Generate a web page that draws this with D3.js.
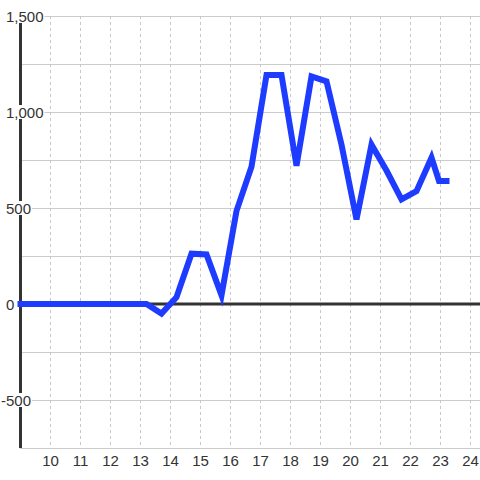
<!DOCTYPE html>
<html>
<head>
<meta charset="utf-8">
<script src="https://cdn.jsdelivr.net/npm/d3@7"></script>
<style>
  html, body { margin: 0; padding: 0; background: #fff; }
  svg { display: block; }
</style>
</head>
<body>
<svg id="chart" width="480" height="480"></svg>
<script>
// ---- data ----
const hours = [9.0, 9.7, 10.2, 10.7, 11.2, 11.7, 12.2, 12.7, 13.2, 13.7, 14.2, 14.7, 15.2, 15.7,
               16.2, 16.7, 17.2, 17.7, 18.2, 18.7, 19.2, 19.7, 20.2, 20.7, 21.2, 21.7, 22.2,
               22.7, 22.95, 23.2];
const values = [0, 0, 0, 0, 0, 0, 0, 0, 0, -50, 35, 262, 258, 45,
                485, 715, 1193, 1193, 720, 1185, 1160, 830, 440, 830, 695, 545, 588,
                762, 641, 641];
const xTicks = [10, 11, 12, 13, 14, 15, 16, 17, 18, 19, 20, 21, 22, 23, 24];
const yLabelTicks = [1500, 1000, 500, 0, -500];
const yGridTicks = [1500, 1250, 1000, 750, 500, 250, 0, -250, -500, -750];

const W = 480, H = 480;
const svg = d3.select("#chart");
const FONT = "Liberation Sans, Arial, sans-serif";

const x = d3.scaleLinear().domain([9, 24]).range([20.5, 470.5]);
const y = d3.scaleLinear().domain([-750, 1500]).range([448, 16]);

const fmt = v => d3.format(",")(v).replace("\u2212", "-");

// horizontal grid
svg.append("g").selectAll("line").data(yGridTicks).join("line")
  .attr("x1", 20).attr("x2", W)
  .attr("y1", d => Math.round(y(d)) + 0.5).attr("y2", d => Math.round(y(d)) + 0.5)
  .attr("stroke", "#cccccc").attr("stroke-width", 1);

// vertical dashed grid
svg.append("g").selectAll("line").data(xTicks).join("line")
  .attr("x1", d => x(d)).attr("x2", d => x(d))
  .attr("y1", y(1500)).attr("y2", y(-750))
  .attr("stroke", "#c8c8c8").attr("stroke-width", 1)
  .attr("stroke-dasharray", "3,3");

// left axis line
svg.append("line")
  .attr("x1", x(9)).attr("x2", x(9))
  .attr("y1", y(1500)).attr("y2", y(-750))
  .attr("stroke", "#333").attr("stroke-width", 3);

// zero line
svg.append("line")
  .attr("x1", x(9)).attr("x2", W)
  .attr("y1", y(0)).attr("y2", y(0))
  .attr("stroke", "#333").attr("stroke-width", 3);

// y labels with white background
const yl = svg.append("g");
yLabelTicks.forEach(v => {
  const g = yl.append("g");
  const t = g.append("text")
    .attr("x", 6).attr("y", y(v) + 6)
    .attr("font-family", FONT).attr("font-size", 15)
    .attr("fill", "#333")
    .text(fmt(v));
  if (v < 0) {
    const tmp = g.append("text").attr("font-family", FONT).attr("font-size", 15).text("-");
    const w = tmp.node().getComputedTextLength();
    tmp.remove();
    t.attr("x", 6 - w);
  }
  const bb = t.node().getBBox();
  g.insert("rect", "text")
    .attr("x", bb.x - 1).attr("y", y(v) - 7)
    .attr("width", bb.width + 2).attr("height", 14)
    .attr("fill", "#fff");
});

// x labels
svg.append("g").selectAll("text").data(xTicks).join("text")
  .attr("x", d => x(d)).attr("y", 466)
  .attr("text-anchor", "middle")
  .attr("font-family", FONT).attr("font-size", 15)
  .attr("fill", "#333")
  .text(d => d);

// data line
const line = d3.line().x((d, i) => x(hours[i])).y(d => y(d));
svg.append("path")
  .datum(values)
  .attr("d", line)
  .attr("fill", "none")
  .attr("stroke", "#1e3cff")
  .attr("stroke-width", 6)
  .attr("stroke-linecap", "square")
  .attr("stroke-linejoin", "miter");
</script>
</body>
</html>
